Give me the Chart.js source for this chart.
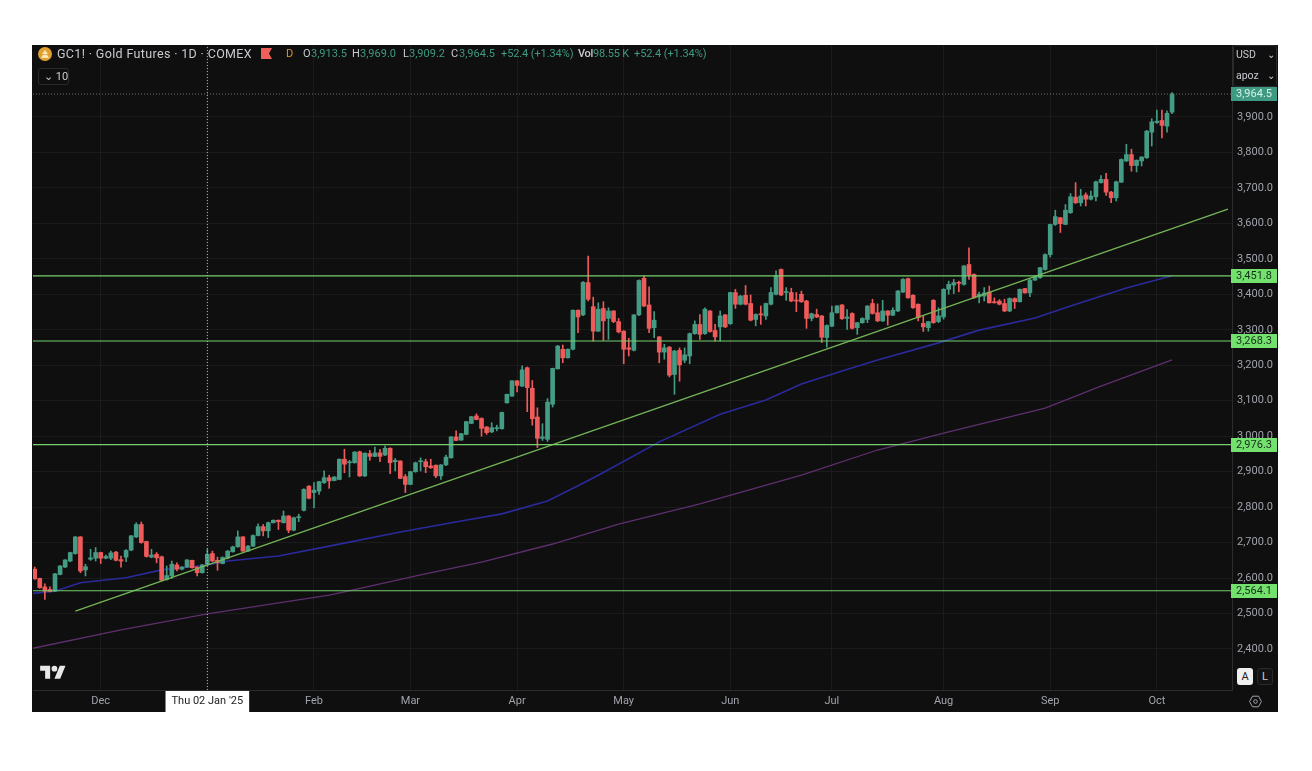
<!DOCTYPE html>
<html lang="en">
<head>
  <meta charset="UTF-8" />
  <title>GC1! Gold Futures 1D</title>
  <script src="https://cdn.jsdelivr.net/npm/chart.js"></script>
  <style>
    html, body { margin: 0; padding: 0; background: #fff; }
    body { width: 1312px; height: 771px; position: relative; overflow: hidden; font-family: Roboto, sans-serif; }
    #wrap { position: absolute; left: 32px; top: 45px; width: 1246px; height: 667px; background: #0f0f0f; }
    #chart { filter: blur(0.35px); }
    .t { position: absolute; white-space: nowrap; font-size: 11px; line-height: 14px; color: #3f9a84; }
    .w { color: #c9cbd1; }
    .btn { position: absolute; width: 16px; height: 17px; border-radius: 3px; text-align: center; font-size: 11px; line-height: 17px; }
  </style>
</head>
<body>
  <div id="wrap"><canvas id="chart" width="1246" height="667"></canvas></div>

  <!-- header -->
  <svg style="position:absolute;left:37px;top:46px" width="16" height="16">
    <circle cx="8" cy="8" r="7" fill="#e0a030"/>
    <path d="M8 4 L11 8 H5 Z M4 12 L6 8.8 H10 L12 12 Z" fill="#fbe9bb"/>
  </svg>
  <div class="t w" style="left:57px;top:47px;font-size:12.5px;letter-spacing:0.35px">GC1! · Gold Futures · 1D · COMEX</div>
  <svg style="position:absolute;left:261px;top:48px" width="11" height="11"><path d="M0 0 H11 L8 5.5 L11 11 H0 Z" fill="#f0605a"/></svg>
  <div class="t" style="left:286px;top:47px;color:#e0902a;font-size:11px">D</div>
  <div class="t w" style="left:303px;top:47px">O</div><div class="t" style="left:311px;top:47px">3,913.5</div>
  <div class="t w" style="left:352px;top:47px">H</div><div class="t" style="left:360px;top:47px">3,969.0</div>
  <div class="t w" style="left:403px;top:47px">L</div><div class="t" style="left:409px;top:47px">3,909.2</div>
  <div class="t w" style="left:451px;top:47px">C</div><div class="t" style="left:459px;top:47px">3,964.5</div>
  <div class="t" style="left:501px;top:47px;letter-spacing:-0.1px">+52.4 (+1.34%)</div>
  <div class="t w" style="left:578px;top:47px;letter-spacing:-0.3px;font-weight:500">Vol</div><div class="t" style="left:593px;top:47px;letter-spacing:-0.2px">98.55 K</div>
  <div class="t" style="left:634px;top:47px;letter-spacing:-0.1px">+52.4 (+1.34%)</div>
  <div class="t w" style="left:38px;top:68px;width:29px;height:15px;border:1px solid #2a2a2a;border-radius:3px;line-height:15px;text-indent:5px;font-size:11px">⌄ 10</div>

  <!-- currency / unit box -->
  <div style="position:absolute;left:1233px;top:45px;width:44px;height:42px;border:1px solid #2a2a2a;border-radius:3px;box-sizing:border-box"></div>
  <div class="t w" style="left:1236px;top:48px;font-size:10.5px">USD</div>
  <div class="t w" style="left:1267px;top:48px;font-size:10px">⌄</div>
  <div class="t w" style="left:1236px;top:69px;font-size:10.5px">apoz</div>
  <div class="t w" style="left:1267px;top:69px;font-size:10px">⌄</div>

  <!-- logo, buttons -->
  <svg style="position:absolute;left:40px;top:663px" width="26" height="20" viewBox="0 0 36 28">
    <path d="M14 22H7V11H0V4h14v18zM28 22h-8l7.5-18h8L28 22z" fill="#e8e8e8"/><circle cx="20" cy="8" r="4" fill="#e8e8e8"/>
  </svg>
  <div class="btn" style="left:1237px;top:668px;background:#f0f0f0;color:#222">A</div>
  <div class="btn" style="left:1257px;top:668px;background:#141414;color:#c9cbd1;border:1px solid #2a2a2a;box-sizing:border-box;line-height:15px">L</div>
  <svg style="position:absolute;left:1249px;top:695px" width="13" height="13" viewBox="0 0 13 13">
    <path d="M3.5 1.2 H9.5 L12.4 6.5 L9.5 11.8 H3.5 L0.6 6.5 Z" fill="none" stroke="#a0a3ab"/><circle cx="6.5" cy="6.5" r="1.8" fill="none" stroke="#a0a3ab"/>
  </svg>

  <script>
    // daily candles
    const opens = [
      2625,2599,2575,2568,2563,2610,2631,2648,2669,2716,
      2623,2653,2656,2672,2656,2656,2673,2652,2659,2679,
      2716,2751,2703,2659,2667,2660,2596,2606,2637,2625,
      2631,2650,2631,2615,2639,2669,2650,2641,2656,2674,
      2688,2716,2676,2690,2720,2745,2733,2756,2763,2756,
      2775,2735,2770,
      2791,2859,2841,2845,2869,2883,2875,2878,2935,2925,
      2925,2956,2888,2951,2943,2953,2947,2966,2928,2930,
      2886,2864,2900,2928,2928,2916,2918,2888,2919,2939,
      2998,2989,3005,3036,3057,3050,3026,3012,3021,3021,
      3094,3113,3156,3141,3193,3135,3054,2994,2991,3090,
      3190,3245,3221,
      3245,3355,3342,3433,3365,3296,3360,3332,3353,3323,
      3296,3249,3242,3342,3445,3370,3306,3280,3237,3251,
      3174,3242,3214,3226,3289,3315,3289,3353,3298,3308,
      3342,3317,3405,3372,3397,3374,3329,3343,3339,3372,
      3400,3470,3405,3405,3383,3400,3381,3332,3343,
      3339,3278,3310,3348,3370,3332,3346,3306,3320,3329,
      3374,3348,3325,3353,3341,3353,3406,3444,3397,3372,
      3318,3306,3383,3323,3336,3414,3426,3433,3428,3484,
      3456,3393,3395,3406,3379,3381,3374,3353,3388,3379,
      3416,3404,3440,3447,
      3470,3512,3597,3616,3597,3630,3674,3658,3680,3668,
      3675,3715,3724,3688,3672,3716,3776,3794,3763,3776,
      3785,3857,3884,3890,3874,3913.5
    ];
    const closes = [
      2598,2573,2563,2562,2612,2634,2651,2672,2716,2620,
      2632,2657,2672,2656,2661,2671,2650,2648,2678,2719,
      2751,2700,2661,2665,2657,2594,2607,2639,2625,2631,
      2651,2629,2615,2637,2667,2648,2643,2658,2676,2688,
      2716,2676,2690,2720,2745,2733,2756,2763,2759,2775,
      2735,2770,2773,
      2850,2825,2848,2872,2883,2874,2885,2935,2921,2928,
      2955,2888,2952,2943,2953,2943,2966,2925,2932,2881,
      2864,2900,2925,2930,2914,2911,2888,2919,2941,2998,
      2988,3007,3041,3055,3047,3022,3010,3024,3024,3067,
      3118,3156,3143,3187,3137,3049,2994,2998,3096,3191,
      3254,3221,3245,
      3355,3336,3434,3386,3296,3358,3325,3353,3323,3294,
      3245,3245,3342,3439,3367,3304,3327,3237,3249,3172,
      3240,3201,3229,3289,3315,3287,3358,3295,3280,3339,
      3308,3405,3372,3395,3372,3327,3343,3342,3374,3405,
      3452,3398,3407,3381,3381,3379,3332,3345,3336,
      3279,3312,3348,3367,3331,3336,3304,3320,3332,3367,
      3346,3325,3353,3341,3355,3409,3442,3390,3362,3334,
      3308,3323,3320,3339,3414,3428,3433,3431,3480,3454,
      3390,3400,3404,3376,3376,3372,3353,3388,3379,3414,
      3404,3440,3449,3475,
      3512,3597,3619,3599,3637,3675,3658,3677,3668,3677,
      3717,3724,3688,3672,3717,3780,3794,3763,3778,3787,
      3860,3886,3888,3876,3910,3964.5
    ];
    const highs = [
      2631,2600,2584,2575,2613,2635,2652,2673,2717,2717,
      2639,2681,2686,2673,2665,2676,2675,2662,2680,2720,
      2756,2758,2704,2681,2672,2662,2634,2648,2643,2632,
      2652,2651,2632,2638,2681,2676,2659,2660,2678,2690,
      2733,2717,2692,2722,2753,2751,2758,2764,2764,2789,
      2776,2772,2780,
      2852,2861,2869,2873,2902,2890,2886,2936,2963,2932,
      2957,2958,2953,2960,2969,2963,2972,2967,2937,2931,
      2892,2901,2927,2939,2935,2935,2919,2920,2947,2999,
      3015,3008,3042,3056,3063,3052,3027,3038,3031,3068,
      3119,3157,3157,3198,3195,3157,3080,3035,3106,3192,
      3256,3257,3246,
      3356,3356,3436,3508,3392,3376,3379,3362,3354,3332,
      3298,3276,3343,3441,3452,3421,3351,3281,3259,3253,
      3242,3249,3249,3291,3325,3343,3362,3354,3315,3353,
      3343,3406,3414,3397,3425,3398,3345,3367,3375,3419,
      3466,3472,3419,3417,3405,3409,3383,3347,3358,
      3340,3314,3367,3368,3371,3357,3348,3321,3334,3368,
      3386,3373,3383,3354,3362,3411,3444,3446,3399,3373,
      3339,3324,3385,3362,3416,3437,3442,3437,3481,3531,
      3458,3406,3419,3423,3390,3385,3386,3390,3390,3415,
      3417,3442,3451,3476,
      3514,3598,3637,3617,3653,3684,3715,3696,3686,3691,
      3719,3735,3741,3690,3719,3782,3823,3809,3779,3788,
      3862,3895,3919,3919,3917,3969
    ];
    const lows = [
      2596,2571,2540,2561,2562,2609,2629,2646,2667,2615,
      2606,2650,2648,2641,2654,2652,2648,2631,2646,2677,
      2714,2698,2659,2657,2643,2592,2594,2599,2620,2623,
      2630,2628,2606,2614,2637,2646,2622,2640,2654,2673,
      2687,2675,2675,2689,2719,2719,2714,2755,2737,2755,
      2728,2733,2759,
      2789,2823,2798,2836,2867,2853,2874,2877,2897,2885,
      2924,2886,2886,2932,2942,2928,2945,2894,2902,2880,
      2841,2863,2898,2902,2897,2909,2883,2878,2917,2938,
      2987,2988,3004,3035,3046,3000,3005,3010,3015,3020,
      3093,3112,3125,3140,3069,3031,2968,2988,2985,3082,
      3189,3207,3220,
      3243,3292,3340,3381,3268,3295,3270,3273,3320,3291,
      3204,3226,3240,3340,3365,3292,3278,3207,3217,3167,
      3118,3155,3207,3204,3287,3273,3287,3293,3268,3268,
      3306,3315,3360,3370,3370,3325,3311,3315,3329,3370,
      3398,3396,3383,3379,3351,3377,3304,3325,3334,
      3264,3251,3309,3347,3329,3301,3302,3287,3318,3320,
      3344,3323,3323,3313,3340,3351,3405,3389,3360,3325,
      3295,3296,3318,3320,3330,3400,3402,3407,3426,3442,
      3389,3376,3381,3375,3375,3370,3351,3351,3360,3378,
      3403,3393,3439,3445,
      3468,3505,3594,3574,3596,3628,3656,3649,3649,3666,
      3663,3713,3679,3658,3663,3715,3774,3747,3745,3762,
      3783,3818,3882,3841,3857,3909.2
    ];

    // moving averages: bar index and price read at points along each line
    const blueIdx = [-1,4,9,18,25,34,38,48,58,72,84,92,101,107,111,123,135,144,151,159,166,178,186,197,204,215,224];
    const blueVal = [2556,2563,2587,2601,2623,2637,2648,2662,2690,2730,2761,2781,2817,2860,2890,2984,3062,3102,3147,3184,3215,3263,3299,3333,3367,3418,3452];
    const purpleIdx = [-1,17,34,58,61,76,88,102,115,131,151,166,180,199,210,224];
    const purpleVal = [2400,2454,2499,2552,2561,2609,2645,2696,2752,2809,2890,2961,3012,3079,3141,3215];

    // drawn lines
    const trendIdx = [8,235];
    const trendVal = [2507,3640];
    const levels = [3451.8,3268.3,2976.3,2564.1];
    const lastPrice = 3964.5;
    const crossIdx = 34;

    // axes
    const xMin = -0.335, xMax = 235.8;
    const yMin = 2284.4, yMax = 4102.8;
    const yTicks = [2400,2500,2600,2700,2800,2900,3000,3100,3200,3300,3400,3500,3600,3700,3800,3900];
    const monthIdx = [13,34,55,74,95,116,137,157,179,200,221];
    const monthLabels = ['Dec',"Thu 02 Jan '25",'Feb','Mar','Apr','May','Jun','Jul','Aug','Sep','Oct'];

    const GREEN = '#459c85', RED = '#ef5a5a', LEVEL = '#74cf6c';
    const candleColor = ctx => closes[ctx.dataIndex] >= opens[ctx.dataIndex] ? GREEN : RED;
    const pts = (xs, ys) => xs.map((x, i) => ({ x: x, y: ys[i] }));
    const fmt = v => v.toLocaleString('en-US', { minimumFractionDigits: 1, maximumFractionDigits: 1 });

    const lineSet = (data, color, width, order, dash) => ({
      type: 'line', data: data, borderColor: color, borderWidth: width, order: order,
      pointRadius: 0, borderDash: dash || [], tension: 0
    });

    // price tags on the right axis
    const priceTags = {
      id: 'priceTags',
      afterDraw(chart) {
        const c = chart.ctx, y = chart.scales.y;
        const tag = (v, bg, fg) => {
          const py = Math.round(y.getPixelForValue(v));
          c.fillStyle = bg;
          c.fillRect(chart.chartArea.right - 1, py - 7, 46, 14);
          c.fillStyle = fg;
          c.font = '11px Roboto, sans-serif';
          c.textBaseline = 'middle';
          c.textAlign = 'left';
          c.fillText(fmt(v), chart.chartArea.right + 4, py + 0.5);
        };
        levels.forEach(v => tag(v, '#74e06e', '#14301a'));
        tag(lastPrice, '#3f9a84', '#d8f0e8');
      }
    };

    new Chart(document.getElementById('chart'), {
      type: 'bar',
      data: {
        datasets: [
          lineSet(pts(purpleIdx, purpleVal), '#5f2f6e', 1.3, 6),
          lineSet(pts(blueIdx, blueVal), '#2a2a9c', 1.6, 5),
          {
            data: lows.map((l, i) => ({ x: i, y: [l, highs[i]] })),
            backgroundColor: candleColor, barThickness: 1, order: 4, grouped: false
          },
          {
            data: opens.map((o, i) => ({ x: i, y: [o, closes[i]] })),
            backgroundColor: candleColor, barThickness: 4, order: 3, grouped: false, minBarLength: 1
          },
          lineSet(pts(trendIdx, trendVal), '#74b557', 1.3, 2),
          ...levels.map(v => lineSet(pts([xMin, xMax], [v, v]), LEVEL, 1.1, 1)),
          lineSet(pts([xMin, xMax], [lastPrice, lastPrice]), '#6f7378', 1, 1, [1, 2]),
          lineSet(pts([crossIdx, crossIdx], [yMin, yMax]), '#b8b8b8', 1, 1, [1, 2])
        ]
      },
      options: {
        responsive: false,
        animation: false,
        layout: { padding: { left: 1 } },
        plugins: { legend: { display: false }, tooltip: { enabled: false } },
        scales: {
          x: {
            type: 'linear', min: xMin, max: xMax, offset: false,
            grid: { color: '#1b1b1b', offset: false, drawTicks: false },
            border: { color: '#2c2c2c' },
            afterBuildTicks: s => { s.ticks = monthIdx.map(v => ({ value: v })); },
            afterFit: s => { s.height = 22; },
            ticks: {
              autoSkip: false, maxRotation: 0, padding: 5,
              font: { family: 'Roboto, sans-serif', size: 11 },
              color: ctx => ctx.index === 1 ? '#222222' : '#a0a3ab',
              showLabelBackdrop: ctx => ctx.index === 1,
              backdropColor: '#ffffff',
              backdropPadding: { x: 6, y: 4 },
              callback: (v, i) => monthLabels[i]
            }
          },
          y: {
            position: 'right', min: yMin, max: yMax,
            grid: { color: '#1b1b1b', drawTicks: false },
            border: { color: '#2c2c2c' },
            afterBuildTicks: s => { s.ticks = yTicks.map(v => ({ value: v })); },
            afterFit: s => { s.width = 46; s.paddingTop = 0; s.paddingBottom = 0; },
            ticks: {
              padding: 5,
              font: { family: 'Roboto, sans-serif', size: 11 },
              color: '#a0a3ab',
              callback: v => fmt(v)
            }
          }
        }
      },
      plugins: [priceTags]
    });
  </script>
</body>
</html>
